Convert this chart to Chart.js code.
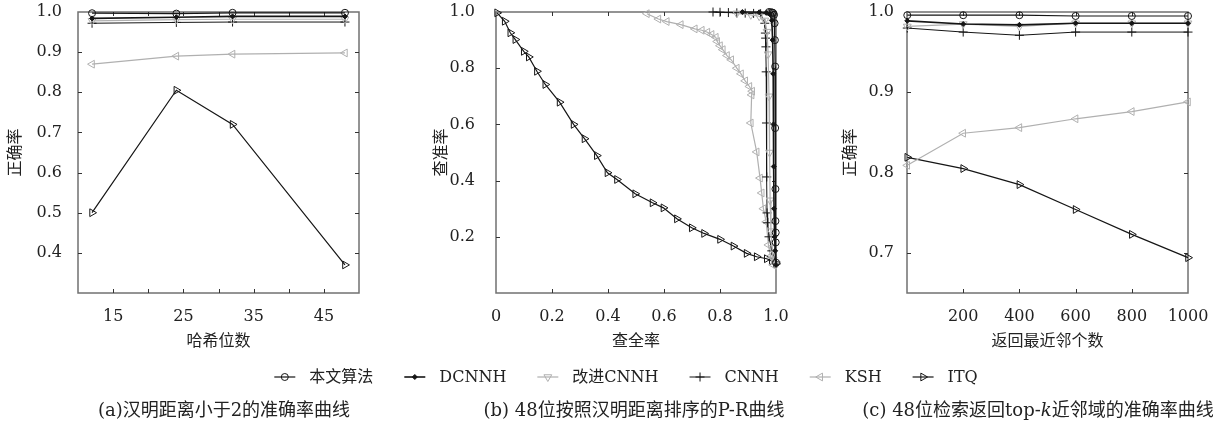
<!DOCTYPE html>
<html>
<head>
<meta charset="utf-8">
<script src="https://cdn.jsdelivr.net/npm/chart.js@4.4.1/dist/chart.umd.min.js"></script>
<style>
    body { margin: 0; background: #fff; width: 1219px; height: 423px; overflow: hidden; position: relative;
           font-family: "DejaVu Serif", "Noto Sans CJK SC", serif; }
    canvas { position: absolute; left: 0; top: 0; }
    .cap { position: absolute; top: 398px; font-size: 18px; line-height: 24px; color: #222;
           white-space: nowrap; transform: translateX(-50%); }
</style>
</head>
<body>
<canvas id="chart-bits" width="1219" height="423"></canvas>
<canvas id="chart-pr" width="1219" height="423"></canvas>
<canvas id="chart-topk" width="1219" height="423"></canvas>
<div class="cap" style="left:224px">(a)汉明距离小于2的准确率曲线</div>
<div class="cap" style="left:634px">(b) 48位按照汉明距离排序的P-R曲线</div>
<div class="cap" style="left:1038px">(c) 48位检索返回top-<i>k</i>近邻域的准确率曲线</div>
<script>
// (a) precision vs. hash bits
const bitsX = [12, 24, 32, 48];
const bitsOurs = [0.997, 0.996, 0.998, 0.998];
const bitsDCNNH = [0.984, 0.987, 0.989, 0.989];
const bitsImpCNNH = [0.978, 0.981, 0.982, 0.982];
const bitsCNNH = [0.972, 0.974, 0.975, 0.975];
const bitsKSH = [0.87, 0.89, 0.895, 0.898];
const bitsITQ = [0.5, 0.805, 0.72, 0.37];
const bitsXTicks = [15, 20, 25, 30, 35, 40, 45];
const bitsXLabels = [15, 25, 35, 45];
const bitsYTicks = [0.4, 0.5, 0.6, 0.7, 0.8, 0.9, 1.0];

// (b) P-R curves, 48 bits
const prOursR = [0.975, 0.982, 0.987, 0.99, 0.993, 0.995, 0.996, 0.997, 0.997, 0.998, 0.998, 0.999, 0.999, 1.0];
const prOursP = [1.0, 0.999, 0.998, 0.996, 0.99, 0.96, 0.9, 0.806, 0.587, 0.37, 0.256, 0.215, 0.18, 0.108];
const prDCNNHR = [0.88, 0.94, 0.965, 0.978, 0.985, 0.988, 0.99, 0.991, 0.992, 0.993, 0.995, 0.997, 1.0];
const prDCNNHP = [1.0, 0.999, 0.997, 0.992, 0.97, 0.9, 0.78, 0.6, 0.45, 0.3, 0.2, 0.15, 0.1];
const prImpCNNHR = [0.86, 0.91, 0.94, 0.96, 0.968, 0.972, 0.975, 0.977, 0.979, 0.982, 0.986, 0.99, 1.0];
const prImpCNNHP = [0.995, 0.99, 0.985, 0.97, 0.93, 0.85, 0.7, 0.5, 0.33, 0.22, 0.16, 0.12, 0.1];
const prCNNHR = [0.775, 0.8, 0.83, 0.86, 0.89, 0.92, 0.945, 0.96, 0.962, 0.963, 0.964, 0.965, 0.966, 0.967, 0.968, 0.97, 0.975, 0.985, 1.0];
const prCNNHP = [1.0, 0.999, 0.998, 0.997, 0.996, 0.995, 0.994, 0.96, 0.925, 0.907, 0.876, 0.787, 0.605, 0.413, 0.285, 0.25, 0.2, 0.15, 0.11];
const prKSHR = [0.539, 0.58, 0.61, 0.66, 0.71, 0.735, 0.755, 0.77, 0.785, 0.79, 0.8, 0.81, 0.825, 0.84, 0.86, 0.875, 0.89, 0.905, 0.915, 0.913, 0.91, 0.931, 0.943, 0.949, 0.955, 0.965, 0.973, 0.98, 0.99];
const prKSHP = [0.994, 0.975, 0.966, 0.955, 0.94, 0.935, 0.928, 0.92, 0.91, 0.895, 0.88, 0.866, 0.845, 0.83, 0.8, 0.78, 0.755, 0.735, 0.718, 0.705, 0.605, 0.502, 0.409, 0.356, 0.3, 0.253, 0.171, 0.13, 0.1];
const prITQR = [0.004, 0.031, 0.051, 0.069, 0.099, 0.117, 0.146, 0.176, 0.227, 0.277, 0.316, 0.36, 0.398, 0.432, 0.497, 0.559, 0.598, 0.646, 0.699, 0.743, 0.8, 0.848, 0.895, 0.931, 0.967, 0.985, 1.0];
const prITQP = [0.997, 0.967, 0.926, 0.902, 0.86, 0.84, 0.789, 0.742, 0.679, 0.6, 0.549, 0.489, 0.428, 0.404, 0.353, 0.321, 0.303, 0.264, 0.232, 0.212, 0.191, 0.167, 0.141, 0.129, 0.122, 0.114, 0.104];
const prXTicks = [0, 0.2, 0.4, 0.6, 0.8, 1.0];
const prYTicks = [0.2, 0.4, 0.6, 0.8, 1.0];

// (c) precision vs. top-k, 48 bits
const topK = [1, 200, 400, 600, 800, 1000];
const topKOurs = [0.996, 0.996, 0.996, 0.995, 0.995, 0.995];
const topKDCNNH = [0.989, 0.985, 0.984, 0.986, 0.986, 0.986];
const topKImpCNNH = [0.982, 0.985, 0.982, 0.986, 0.986, 0.986];
const topKCNNH = [0.98, 0.975, 0.971, 0.975, 0.975, 0.975];
const topKKSH = [0.809, 0.849, 0.856, 0.867, 0.876, 0.888];
const topKITQ = [0.819, 0.805, 0.785, 0.754, 0.723, 0.694];
const topKXTicks = [200, 400, 600, 800, 1000];
const topKYTicks = [0.7, 0.8, 0.9, 1.0];

const SERIF = '"DejaVu Serif", "Noto Sans CJK SC", serif';
const CJK = '"Noto Sans CJK SC", sans-serif';
const BLACK = '#151515';
const GRAY = '#b0b0b0';

const styles = {
    ours:    { label: '本文算法', color: BLACK, pointStyle: 'circle',   rotation: 0,   radius: 3.5, filled: false, width: 1.2 },
    dcnnh:   { label: 'DCNNH',    color: BLACK, pointStyle: 'rectRot',  rotation: 0,   radius: 2.5, filled: true,  width: 1.6 },
    imp:     { label: '改进CNNH', color: GRAY,  pointStyle: 'triangle', rotation: 180, radius: 4.5, filled: false, width: 1.2 },
    cnnh:    { label: 'CNNH',     color: BLACK, pointStyle: 'cross',    rotation: 0,   radius: 4.5, filled: false, width: 1 },
    ksh:     { label: 'KSH',      color: GRAY,  pointStyle: 'triangle', rotation: -90, radius: 4.5, filled: false, width: 1.2 },
    itq:     { label: 'ITQ',      color: BLACK, pointStyle: 'triangle', rotation: 90,  radius: 4.5, filled: false, width: 1.2 }
};

function series(key, xs, ys) {
    const s = styles[key];
    return {
        label: s.label,
        data: xs.map((x, i) => ({ x: x, y: ys[i] })),
        borderColor: s.color,
        borderWidth: s.width,
        pointStyle: s.pointStyle,
        pointRotation: s.rotation,
        pointRadius: s.radius,
        pointBorderColor: s.color,
        pointBorderWidth: 1,
        pointBackgroundColor: s.filled ? s.color : 'rgba(0,0,0,0)',
        tension: 0,
        fill: false,
        clip: false
    };
}

// plot box and short inward ticks on all four sides
const framePlugin = {
    id: 'frame',
    beforeDatasetsDraw(chart) {
        const { ctx, chartArea: a, scales: { x, y } } = chart;
        ctx.save();
        ctx.strokeStyle = '#707070';
        ctx.lineWidth = 1.5;
        ctx.strokeRect(a.left, a.top, a.right - a.left, a.bottom - a.top);
        ctx.strokeStyle = '#333';
        ctx.lineWidth = 1;
        ctx.beginPath();
        x.ticks.forEach(t => {
            if (t.value <= x.min || t.value >= x.max) return;
            const px = Math.round(x.getPixelForValue(t.value)) + 0.5;
            ctx.moveTo(px, a.bottom); ctx.lineTo(px, a.bottom - 4);
            ctx.moveTo(px, a.top); ctx.lineTo(px, a.top + 4);
        });
        y.ticks.forEach(t => {
            if (t.value <= y.min || t.value >= y.max) return;
            const py = Math.round(y.getPixelForValue(t.value)) + 0.5;
            ctx.moveTo(a.left, py); ctx.lineTo(a.left + 4, py);
            ctx.moveTo(a.right, py); ctx.lineTo(a.right - 4, py);
        });
        ctx.stroke();
        ctx.restore();
    }
};

// shared legend with line + marker samples, drawn under the panels
const legendPlugin = {
    id: 'sharedLegend',
    afterDraw(chart) {
        const ctx = chart.ctx;
        const keys = ['ours', 'dcnnh', 'imp', 'cnnh', 'ksh', 'itq'];
        const lineLen = 21, gapText = 14, gapItem = 31, cy = 377;
        ctx.save();
        ctx.font = '16px ' + SERIF;
        const widths = keys.map(k => ctx.measureText(styles[k].label).width);
        const total = widths.reduce((s, w) => s + w + lineLen + gapText, 0) + gapItem * (keys.length - 1);
        let x = 626 - total / 2;
        keys.forEach((k, i) => {
            const s = styles[k];
            ctx.strokeStyle = s.color;
            ctx.lineWidth = s.width;
            ctx.beginPath();
            ctx.moveTo(x, cy); ctx.lineTo(x + lineLen, cy);
            ctx.stroke();
            ctx.lineWidth = 1;
            ctx.fillStyle = s.filled ? s.color : 'rgba(0,0,0,0)';
            Chart.helpers.drawPoint(ctx, {
                pointStyle: s.pointStyle, rotation: s.rotation,
                radius: s.radius, borderWidth: 1
            }, x + lineLen / 2, cy);
            ctx.fillStyle = '#222';
            ctx.textBaseline = 'middle';
            ctx.textAlign = 'left';
            ctx.fillText(s.label, x + lineLen + gapText, cy + 1);
            x += lineLen + gapText + widths[i] + gapItem;
        });
        ctx.restore();
    }
};

function makePanel(id, opts) {
    return new Chart(document.getElementById(id), {
        type: 'line',
        data: { datasets: opts.datasets },
        options: {
            responsive: false,
            animation: false,
            layout: { padding: { left: opts.left - opts.yWidth, right: 1219 - opts.right, top: 12, bottom: 73 } },
            plugins: { legend: { display: false }, tooltip: { enabled: false } },
            scales: {
                x: {
                    type: 'linear',
                    min: opts.xMin, max: opts.xMax,
                    grid: { display: false }, border: { display: false },
                    afterBuildTicks: s => { s.ticks = opts.xTicks.map(v => ({ value: v })); },
                    afterFit: s => { s.height = 57; s.paddingLeft = 0; s.paddingRight = 0; },
                    ticks: {
                        autoSkip: false, maxRotation: 0, padding: 6, color: '#222',
                        font: { family: SERIF, size: 16 },
                        callback: opts.xFormat
                    },
                    title: { display: true, text: opts.xTitle, color: '#222', padding: { top: 4, bottom: 0 },
                             font: { family: CJK, size: 16 } }
                },
                y: {
                    min: opts.yMin, max: opts.yMax,
                    grid: { display: false }, border: { display: false },
                    afterBuildTicks: s => { s.ticks = opts.yTicks.map(v => ({ value: v })); },
                    afterFit: s => { s.width = opts.yWidth; s.paddingTop = 0; s.paddingBottom = 0; },
                    ticks: {
                        padding: opts.yPad, color: '#222',
                        font: { family: SERIF, size: 16 },
                        callback: v => v.toFixed(1)
                    },
                    title: { display: true, text: opts.yTitle, color: '#222', padding: { top: opts.yTitlePad, bottom: 0 },
                             font: { family: CJK, size: 16 } }
                }
            }
        },
        plugins: [framePlugin].concat(opts.extraPlugins || [])
    });
}

document.addEventListener('DOMContentLoaded', () => {
    makePanel('chart-bits', {
        left: 78, right: 359, yWidth: 78, yPad: 8, yTitlePad: 4,
        xMin: 10, xMax: 50, yMin: 0.3, yMax: 1.0,
        xTicks: bitsXTicks, yTicks: bitsYTicks,
        xFormat: v => (bitsXLabels.includes(v) ? String(v) : ''),
        xTitle: '哈希位数', yTitle: '正确率',
        datasets: [
            series('ours', bitsX, bitsOurs),
            series('dcnnh', bitsX, bitsDCNNH),
            series('imp', bitsX, bitsImpCNNH),
            series('cnnh', bitsX, bitsCNNH),
            series('ksh', bitsX, bitsKSH),
            series('itq', bitsX, bitsITQ)
        ]
    });

    makePanel('chart-pr', {
        left: 496, right: 776, yWidth: 70, yPad: 13, yTitlePad: 4,
        xMin: 0, xMax: 1, yMin: 0, yMax: 1,
        xTicks: prXTicks, yTicks: prYTicks,
        xFormat: v => (v === 0 ? '0' : v.toFixed(1)),
        xTitle: '查全率', yTitle: '查准率',
        datasets: [
            series('ours', prOursR, prOursP),
            series('dcnnh', prDCNNHR, prDCNNHP),
            series('imp', prImpCNNHR, prImpCNNHP),
            series('cnnh', prCNNHR, prCNNHP),
            series('ksh', prKSHR, prKSHP),
            series('itq', prITQR, prITQP)
        ],
        extraPlugins: [legendPlugin]
    });

    makePanel('chart-topk', {
        left: 907, right: 1188, yWidth: 70, yPad: 5, yTitlePad: 2,
        xMin: 0, xMax: 1000, yMin: 0.65, yMax: 1.0,
        xTicks: topKXTicks, yTicks: topKYTicks,
        xFormat: v => String(v),
        xTitle: '返回最近邻个数', yTitle: '正确率',
        datasets: [
            series('ours', topK, topKOurs),
            series('dcnnh', topK, topKDCNNH),
            series('imp', topK, topKImpCNNH),
            series('cnnh', topK, topKCNNH),
            series('ksh', topK, topKKSH),
            series('itq', topK, topKITQ)
        ]
    });
});
</script>
</body>
</html>
